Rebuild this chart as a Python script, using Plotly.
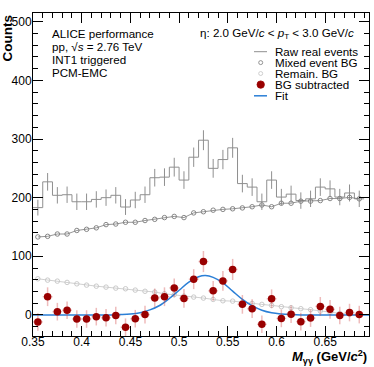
import plotly.graph_objects as go

# bin edges 0.35 .. 0.69, width 0.01
bin_edges = [round(0.35 + 0.01 * i, 3) for i in range(35)]
bin_centers = [round(0.355 + 0.01 * i, 3) for i in range(34)]

raw_counts = [183, 227, 204, 205, 193, 193, 197, 200, 204, 184, 196, 205,
              234, 235, 252, 230, 269, 298, 250, 265, 285, 224, 218, 193,
              230, 201, 206, 195, 198, 218, 215, 201, 208, 198]
raw_err = [13.5, 15, 14, 14, 14, 14, 14, 14, 14, 13.5, 14, 14,
           15, 15, 16, 15, 16.5, 17, 16, 16.5, 17, 15, 15, 14,
           15, 14, 14.5, 14, 14, 15, 14.5, 14, 14.5, 14]

mixed_bg = [133, 134, 138, 138, 144, 146, 148.5, 154, 155, 158, 158, 161,
            163, 166, 168, 166, 174, 176, 178.6, 180, 181, 182.5, 184.5, 187.5,
            184.5, 190.5, 190.5, 194, 194, 195, 198.5, 198.5, 200.5, 198]

remain_bg = [61.6, 59.3, 57.6, 55.4, 53, 50.8, 49, 47.4, 45.7, 44.6, 42.3, 40.3,
             38.9, 36, 34.4, 32, 30.4, 28.7, 26.4, 24.1, 23.5, 21.3, 19.6, 17.9,
             16.2, 14, 12.3, 10.6, 8.9, 6.5, 4.3, 2.6, 0.9, -0.9]

bg_sub = [-12, 31, 5.5, 8, -7, -7, -3, -5, -1, -21, -6.5, 0.5,
          29, 31, 46, 28, 61, 91, 41, 58, 77.5, 18, 10.5, -16,
          27.5, -6, 1, -11.5, -5.5, 14.5, 9.5, -1, 4, 0.5]
bg_sub_err = [15, 16, 15, 15, 15, 15, 15, 15, 15, 15, 15, 15,
              16, 16, 16, 16, 17, 18, 17, 17, 18, 16, 16, 15,
              16, 15, 15, 15, 15, 16, 16, 15, 15, 15]

# fitted curve
fit_x = [0.35, 0.43, 0.44, 0.45, 0.46, 0.47, 0.48, 0.49, 0.50, 0.51, 0.52, 0.527,
         0.535, 0.545, 0.555, 0.565, 0.575, 0.585, 0.595, 0.605, 0.615, 0.625, 0.695]
fit_y = [0, 0, 0.5, 1.5, 3.8, 8.5, 16, 28, 42, 56, 65, 67,
         64, 54.6, 40.6, 26.6, 15.7, 7.9, 3.5, 1.5, 0.5, 0, 0]

legend_labels = ["Raw real events", "Mixed event BG", "Remain. BG", "BG subtracted", "Fit"]

FONT = "Liberation Sans, Arial, Helvetica, sans-serif"
RAW_C = "#8f8f8f"
MIX_C = "#7a7a7a"
REM_C = "#c4c4c4"
RED_C = "#990000"
PINK = "rgba(205,60,60,0.35)"
FIT_C = "#2b7fd6"

W, H = 374, 367
L, R, T, B = 33, 5, 13, 31


def fx(p):
    return (p - L) / (W - L - R)


def fy(p):
    return (H - B - p) / (H - T - B)


fig = go.Figure()

# raw histogram as steps over bin edges
fig.add_trace(go.Scatter(x=bin_edges, y=raw_counts + [raw_counts[-1]], mode="lines",
                         line=dict(color=RAW_C, width=1, shape="hv"), showlegend=False))
fig.add_trace(go.Scatter(x=bin_centers, y=raw_counts, mode="markers",
                         marker=dict(size=1, color="rgba(0,0,0,0)"),
                         error_y=dict(type="data", array=raw_err, color=RAW_C, thickness=1, width=0),
                         showlegend=False))
fig.add_trace(go.Scatter(x=bin_centers, y=mixed_bg, mode="lines+markers",
                         line=dict(color=MIX_C, width=0.8),
                         marker=dict(symbol="circle-open", size=4.5, color=MIX_C, line=dict(width=0.9)),
                         showlegend=False))
fig.add_trace(go.Scatter(x=bin_centers, y=remain_bg, mode="lines+markers",
                         line=dict(color=REM_C, width=0.8),
                         marker=dict(symbol="circle-open", size=4.5, color=REM_C, line=dict(width=0.9)),
                         showlegend=False))
fig.add_trace(go.Scatter(x=fit_x, y=fit_y, mode="lines",
                         line=dict(color=FIT_C, width=1.5, shape="spline"), showlegend=False))
fig.add_trace(go.Scatter(x=bin_centers, y=bg_sub, mode="markers",
                         marker=dict(symbol="circle", size=7.5, color=RED_C),
                         error_y=dict(type="data", array=bg_sub_err, color=PINK, thickness=1.5, width=0),
                         error_x=dict(type="constant", value=0.005, color=PINK, thickness=1.5, width=0),
                         showlegend=False))

annotations = []
shapes = []

# ALICE label block
info = ["ALICE performance", "pp, \u221a<i>s</i> = 2.76 TeV", "INT1 triggered", "PCM-EMC"]
for i, t in enumerate(info):
    annotations.append(dict(x=fx(50), y=fy(33.5 + 12.9 * i), xref="paper", yref="paper",
                            text=t, showarrow=False, xanchor="left", yanchor="middle",
                            font=dict(size=11.6, color="black", family=FONT)))

annotations.append(dict(x=fx(356), y=fy(33.5), xref="paper", yref="paper",
                        text="\u03b7: 2.0 GeV/<i>c</i> &lt; <i>p</i><sub>T</sub> &lt; 3.0 GeV/<i>c</i>",
                        showarrow=False, xanchor="right", yanchor="middle",
                        font=dict(size=11.6, color="black", family=FONT)))

# hand-made legend
leg_y = [51.7, 62.6, 73.5, 84.6, 95.8]
for lab, yy in zip(legend_labels, leg_y):
    annotations.append(dict(x=fx(272.5), y=fy(yy), xref="paper", yref="paper", text=lab,
                            showarrow=False, xanchor="left", yanchor="middle",
                            font=dict(size=11.6, color="black", family=FONT)))

shapes.append(dict(type="line", xref="paper", yref="paper", x0=fx(254), x1=fx(267),
                   y0=fy(leg_y[0]), y1=fy(leg_y[0]), line=dict(color=RAW_C, width=1)))
for yy, col, sz, fill in [(leg_y[1], MIX_C, 2, None), (leg_y[2], REM_C, 2, None),
                          (leg_y[3], RED_C, 3.7, RED_C)]:
    shapes.append(dict(type="circle", xref="paper", yref="paper", xsizemode="pixel",
                       ysizemode="pixel", xanchor=fx(260.7), yanchor=fy(yy),
                       x0=-sz, x1=sz, y0=-sz, y1=sz,
                       line=dict(color=col, width=0.8), fillcolor=fill))
shapes.append(dict(type="line", xref="paper", yref="paper", x0=fx(254), x1=fx(267),
                   y0=fy(leg_y[4]), y1=fy(leg_y[4]), line=dict(color=FIT_C, width=1.5)))

# axis titles, ROOT-style aligned to the axis ends
annotations.append(dict(x=fx(7), y=fy(13), xref="paper", yref="paper", text="<b>Counts</b>",
                        textangle=-90, showarrow=False, xanchor="center", yanchor="top",
                        font=dict(size=13.5, color="black", family=FONT)))
annotations.append(dict(x=fx(369), y=fy(357), xref="paper", yref="paper",
                        text="<b><i>M</i><sub>\u03b3\u03b3</sub> (GeV/<i>c</i><sup>2</sup>)</b>",
                        showarrow=False, xanchor="right", yanchor="middle",
                        font=dict(size=13, color="black", family=FONT)))

axis_common = dict(showgrid=False, zeroline=False, showline=True, linecolor="black",
                   linewidth=1, mirror="allticks", ticks="inside", ticklen=10,
                   tickcolor="black", tickwidth=1,
                   tickfont=dict(size=12, color="black", family=FONT))

fig.update_layout(
    width=W, height=H,
    margin=dict(l=L, r=R, t=T, b=B),
    plot_bgcolor="white", paper_bgcolor="white",
    xaxis=dict(range=[0.35, 0.695], tick0=0.35, dtick=0.05, ticklabelstandoff=-5,
               minor=dict(ticks="inside", ticklen=5, dtick=0.01, tickcolor="black"),
               **axis_common),
    yaxis=dict(range=[-36, 515], tick0=0, dtick=100, ticklabelstandoff=-2,
               minor=dict(ticks="inside", ticklen=5, dtick=20, tickcolor="black"),
               **axis_common),
    annotations=annotations,
    shapes=shapes,
    showlegend=False,
)

# drop the browser's default page margin so the figure sits at the window origin
fig.write_html("out.html", config={"displayModeBar": False},
               post_script="document.body.style.margin='0';")
